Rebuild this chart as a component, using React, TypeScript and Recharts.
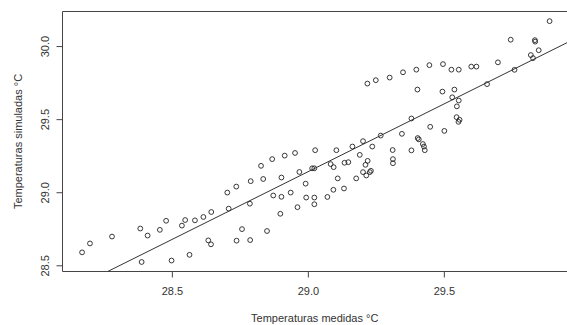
import { ScatterChart, Scatter, XAxis, YAxis, ReferenceLine, Label } from "recharts";

// medidas (x) vs simuladas (y), °C
const medidas = [
  28.168, 28.197, 28.278, 28.382, 28.409, 28.454, 28.477, 28.535, 28.387, 28.497,
  28.547, 28.563, 28.583, 28.614, 28.632, 28.642, 28.643, 28.702, 28.707, 28.735,
  28.736, 28.756, 28.785, 28.786, 28.788, 28.826, 28.834, 28.848, 28.867, 28.871,
  28.897, 28.901, 28.901, 28.913, 28.935, 28.951, 28.96, 28.967, 28.99, 28.992,
  29.014, 29.022, 29.022, 29.022, 29.025, 29.07, 29.082, 29.092, 29.093, 29.103,
  29.108, 29.131, 29.133, 29.147, 29.162, 29.176, 29.189, 29.201, 29.21, 29.218,
  29.201, 29.23, 29.226, 29.213, 29.235, 29.266, 29.31, 29.311, 29.311, 29.344,
  29.379, 29.379, 29.402, 29.406, 29.421, 29.425, 29.428, 29.448, 29.5, 29.529,
  29.553, 29.546, 29.545, 29.556, 29.552, 29.401, 29.493, 29.537, 29.657, 29.217,
  29.248, 29.299, 29.348, 29.397, 29.445, 29.495, 29.526, 29.553, 29.599, 29.618,
  29.697, 29.758, 29.818, 29.826, 29.847, 29.833, 29.834, 29.744, 29.887,
];

const simuladas = [
  28.592, 28.653, 28.7, 28.755, 28.707, 28.746, 28.808, 28.775, 28.526, 28.536,
  28.813, 28.575, 28.811, 28.834, 28.674, 28.647, 28.868, 29.001, 28.891, 29.042,
  28.672, 28.751, 28.925, 28.676, 29.079, 29.184, 29.094, 28.738, 29.23, 28.981,
  28.856, 29.104, 28.972, 29.254, 29.001, 29.272, 28.901, 29.142, 29.062, 28.967,
  29.167, 29.167, 28.967, 28.921, 29.291, 28.971, 29.196, 29.02, 29.175, 29.291,
  29.098, 29.029, 29.205, 29.209, 29.316, 29.098, 29.259, 29.353, 29.191, 29.218,
  29.141, 29.15, 29.141, 29.118, 29.316, 29.391, 29.292, 29.23, 29.202, 29.403,
  29.508, 29.29, 29.374, 29.365, 29.333, 29.316, 29.291, 29.451, 29.423, 29.653,
  29.631, 29.591, 29.517, 29.499, 29.485, 29.706, 29.692, 29.706, 29.743, 29.747,
  29.77, 29.788, 29.824, 29.842, 29.873, 29.88, 29.842, 29.842, 29.863, 29.863,
  29.892, 29.841, 29.942, 29.921, 29.975, 30.044, 30.034, 30.047, 30.174,
];

const xTicks = [28.5, 29.0, 29.5];
const yTicks = [28.5, 29.0, 29.5, 30.0];

// regression line y = a + b*x
const intercept = 2.262;
const slope = 0.927;

const xDomain = [28.096, 29.951];
const yDomain = [28.461, 30.24];

const points = medidas.map((x, i) => ({ x, y: simuladas[i] }));

const fitX0 = (yDomain[0] - intercept) / slope;
const fitLine = [fitX0, xDomain[1]].map((x) => ({ x, y: intercept + slope * x }));

const font = '"Liberation Sans", Arial, sans-serif';
const textColor = "#333";
const lineColor = "#444";

const Circle = (props: any) => {
  const { cx, cy } = props;
  if (cx == null || cy == null) return <g />;
  return <circle cx={cx} cy={cy} r={2.4} fill="none" stroke="#222" strokeWidth={0.9} />;
};

const YTick = (props: any) => {
  const { x, y, payload } = props;
  return (
    <text
      x={x}
      y={y}
      transform={`rotate(-90, ${x}, ${y})`}
      textAnchor="middle"
      fontSize={11}
      fontFamily={font}
      fill={textColor}
    >
      {Number(payload.value).toFixed(1)}
    </text>
  );
};

export default function App() {
  return (
    <div style={{ width: 567, height: 325 }}>
      <style>{"body{margin:0}"}</style>
      <ScatterChart width={567} height={325} margin={{ top: 11.5, right: 0, bottom: 0, left: 0 }}>
        <XAxis
          type="number"
          dataKey="x"
          domain={xDomain}
          ticks={xTicks}
          allowDataOverflow
          height={53.5}
          tickSize={6}
          tickMargin={10}
          stroke={lineColor}
          tick={{ fontSize: 11, fontFamily: font, fill: textColor }}
          tickFormatter={(v: number) => v.toFixed(1)}
        >
          <Label
            content={({ viewBox }: any) => (
              <text
                x={viewBox.x + viewBox.width / 2}
                y={viewBox.y + viewBox.height - 3.5}
                textAnchor="middle"
                fontSize={11}
                fontFamily={font}
                fill={textColor}
              >
                Temperaturas medidas °C
              </text>
            )}
          />
        </XAxis>
        <YAxis
          type="number"
          dataKey="y"
          domain={yDomain}
          ticks={yTicks}
          allowDataOverflow
          width={62.5}
          tickSize={6}
          tickMargin={7}
          stroke={lineColor}
          tick={<YTick />}
        >
          <Label
            content={({ viewBox }: any) => {
              const cx = 21.5;
              const cy = viewBox.y + viewBox.height / 2;
              return (
                <text
                  x={cx}
                  y={cy}
                  transform={`rotate(-90, ${cx}, ${cy})`}
                  textAnchor="middle"
                  fontSize={11}
                  fontFamily={font}
                  fill={textColor}
                >
                  Temperaturas simuladas °C
                </text>
              );
            }}
          />
        </YAxis>
        <ReferenceLine y={yDomain[1]} stroke={lineColor} strokeWidth={1} />
        <Scatter data={points} shape={<Circle />} isAnimationActive={false} />
        <Scatter
          data={fitLine}
          line={{ stroke: "#333", strokeWidth: 1 }}
          shape={() => <g />}
          legendType="none"
          isAnimationActive={false}
        />
      </ScatterChart>
    </div>
  );
}
